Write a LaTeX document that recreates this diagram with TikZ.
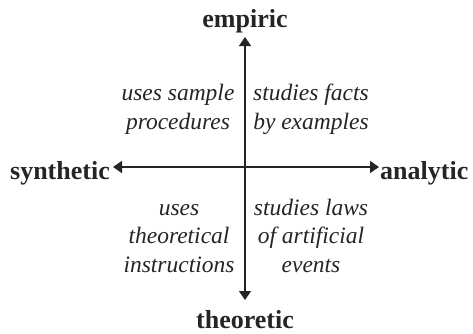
\documentclass[tikz,border=0pt]{standalone}
\usepackage{fontspec}
\setmainfont{Liberation Serif}
\usetikzlibrary{arrows.meta}
\definecolor{ink}{HTML}{252525}
\tikzset{
  pole/.style={font=\fontsize{26}{30}\selectfont\bfseries, text=ink, inner sep=0pt},
  note/.style={font=\fontsize{23.5}{28.5}\selectfont\itshape, text=ink, align=center, inner sep=0pt},
  axis/.style={draw=ink, line width=1.5pt, {Triangle[length=9pt,width=12pt]}-{Triangle[length=9pt,width=12pt]}}
}
\begin{document}
\begin{tikzpicture}[x=1pt,y=1pt]
\useasboundingbox (0,0) rectangle (473,333);
\node[pole, anchor=base] (empiric) at (245,306) {empiric};
\node[pole, anchor=base] (theoretic) at (245,4.5) {theoretic};
\node[pole, anchor=base east] (synthetic) at (110,154) {synthetic};
\node[pole, anchor=base west] (analytic) at (380,154) {analytic};
\coordinate (N) at (245,296);
\coordinate (S) at (245,33);
\coordinate (W) at (113,166);
\coordinate (E) at (379,166);
\draw[axis] (N) -- (S);
\draw[axis] (W) -- (E);
\node[note, anchor=base] (tl) at (178,204) {uses sample\\procedures};
\node[note, anchor=base] (tr) at (311,204) {studies facts\\by examples};
\node[note, anchor=base] (bl) at (179,61) {uses\\theoretical\\instructions};
\node[note, anchor=base] (br) at (311,61) {studies laws\\of artificial\\events};
\end{tikzpicture}
\end{document}
